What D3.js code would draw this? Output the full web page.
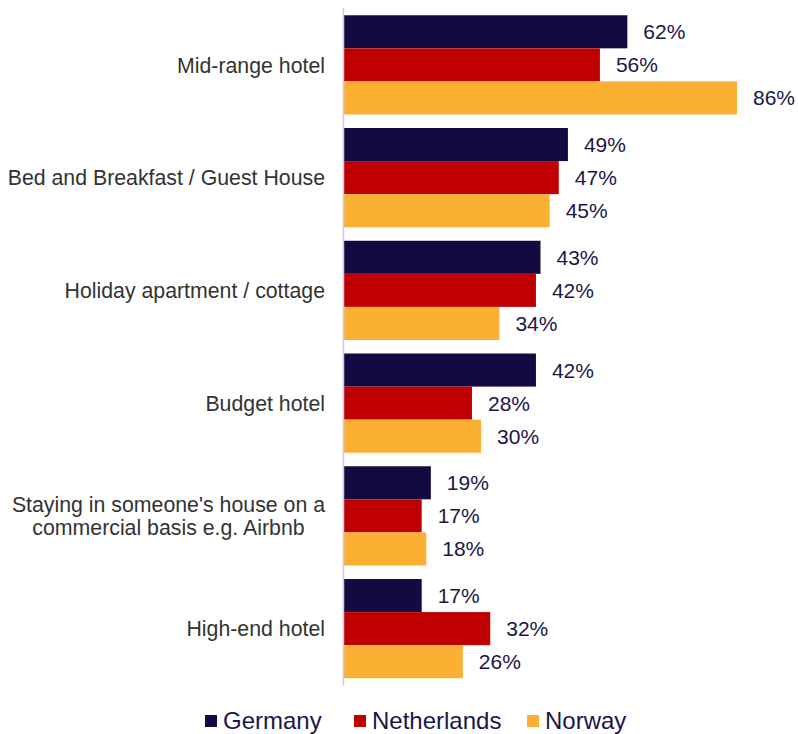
<!DOCTYPE html>
<html>
<head>
<meta charset="utf-8">
<script src="https://cdn.jsdelivr.net/npm/d3@7"></script>
<style>
  html, body { margin: 0; padding: 0; background: #fff; }
  svg { display: block; }
</style>
</head>
<body>
<svg id="chart" width="798" height="734"></svg>
<script>
// Accommodation types and share of respondents per country (%)
const categories = [
  ["Mid-range hotel"],
  ["Bed and Breakfast / Guest House"],
  ["Holiday apartment / cottage"],
  ["Budget hotel"],
  ["Staying in someone's house on a", "commercial basis e.g. Airbnb"],
  ["High-end hotel"]
];
const seriesNames = ["Germany", "Netherlands", "Norway"];
const germany     = [62, 49, 43, 42, 19, 17];
const netherlands = [56, 47, 42, 28, 17, 32];
const norway      = [86, 45, 34, 30, 18, 26];
const colors = ["#130a42", "#c00000", "#fbb034"];

const values = [germany, netherlands, norway];
const svg = d3.select("#chart");
const font = "Liberation Sans, Arial, sans-serif";

const x0 = 344;
const x = d3.scaleLinear().domain([0, 100]).range([x0, x0 + 457]);

const y = d3.scaleBand()
  .domain(d3.range(categories.length))
  .range([8.5, 685])
  .paddingInner(0.12)
  .paddingOuter(0.06);

const ySub = d3.scaleBand()
  .domain(d3.range(seriesNames.length))
  .range([0, y.bandwidth()])
  .padding(0);

const groups = svg.selectAll("g.cat")
  .data(categories)
  .join("g")
  .attr("class", "cat")
  .attr("transform", (d, i) => `translate(0,${y(i)})`);

groups.each(function(lines, ci) {
  const g = d3.select(this);
  seriesNames.forEach((s, si) => {
    const v = values[si][ci];
    g.append("rect")
      .attr("x", x(0))
      .attr("y", ySub(si))
      .attr("width", x(v) - x(0))
      .attr("height", ySub.bandwidth())
      .attr("fill", colors[si]);
    g.append("text")
      .attr("x", x(v) + 16)
      .attr("y", ySub(si) + ySub.bandwidth() / 2)
      .attr("dy", "0.36em")
      .attr("font-family", font)
      .attr("font-size", 21)
      .attr("fill", "#1b1648")
      .text(v + "%");
  });
  // category label: block right-aligned against the axis, lines centred within it
  const lh = 23.5;
  const t = g.append("text")
    .attr("text-anchor", "middle")
    .attr("font-family", font)
    .attr("font-size", 21.3)
    .attr("fill", "#333333");
  const spans = lines.map((line, li) =>
    t.append("tspan")
      .attr("y", y.bandwidth() / 2 + (li - (lines.length - 1) / 2) * lh)
      .attr("dy", "0.36em")
      .text(line));
  const maxW = d3.max(spans, s => s.node().getComputedTextLength());
  spans.forEach(s => s.attr("x", 325 - maxW / 2));
});

// vertical axis line
svg.append("line")
  .attr("x1", x0 - 0.5).attr("x2", x0 - 0.5)
  .attr("y1", 8).attr("y2", 685)
  .attr("stroke", "#c9c6ee")
  .attr("stroke-width", 1.5);

// legend
const legendX = [205, 354, 527];
const legend = svg.selectAll("g.legend")
  .data(seriesNames)
  .join("g")
  .attr("class", "legend")
  .attr("transform", (d, i) => `translate(${legendX[i]},715)`);
legend.append("rect")
  .attr("width", 12).attr("height", 12)
  .attr("fill", (d, i) => colors[i]);
legend.append("text")
  .attr("x", 18)
  .attr("y", 14)
  .attr("font-family", font)
  .attr("font-size", 24)
  .attr("fill", "#1b1648")
  .text(d => d);
</script>
</body>
</html>
